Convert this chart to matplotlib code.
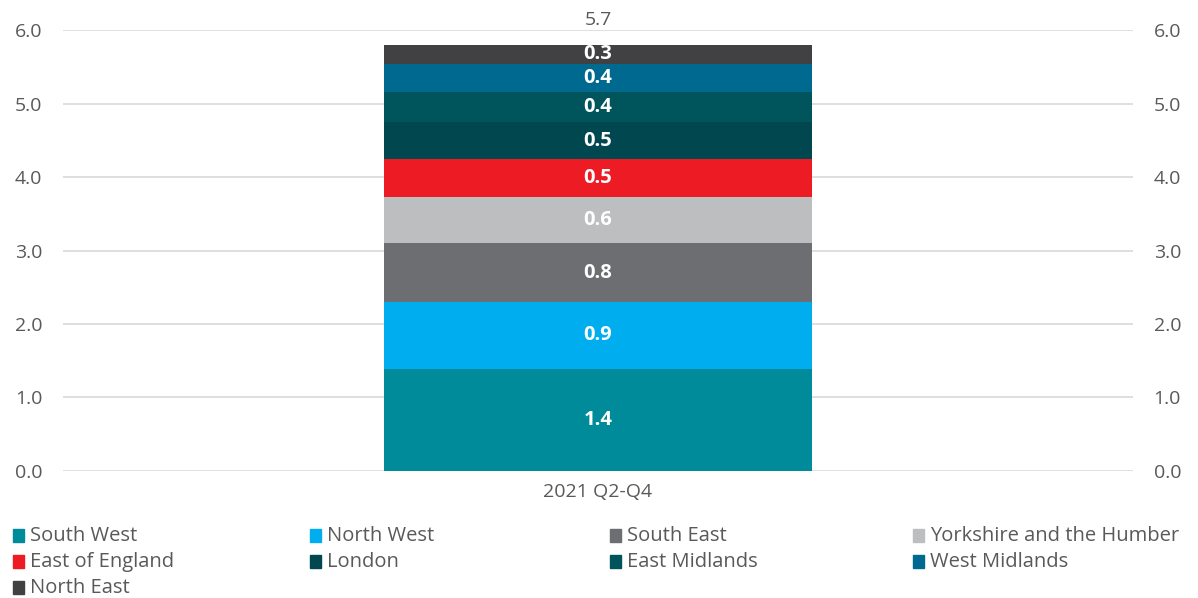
import matplotlib
matplotlib.use("Agg")
import matplotlib.pyplot as plt
from matplotlib.patches import Rectangle

# data
category = "2021 Q2-Q4"
regions = ["South West", "North West", "South East", "Yorkshire and the Humber",
           "East of England", "London", "East Midlands", "West Midlands", "North East"]
values = [1.39, 0.91, 0.80, 0.63, 0.51, 0.51, 0.41, 0.38, 0.26]
labels = ["1.4", "0.9", "0.8", "0.6", "0.5", "0.5", "0.4", "0.4", "0.3"]
total_label = "5.7"
colors = ["#008B9A", "#00AEEF", "#6D6E71", "#BCBEC0", "#ED1C24",
          "#00474F", "#00545C", "#006990", "#414042"]

plt.rcParams['font.family'] = ['Open Sans', 'DejaVu Sans']
txt = "#595959"

fig = plt.figure(figsize=(11.98, 5.98), dpi=100)
ax = fig.add_axes([0.0526, 0.2124, 0.893, 0.7374])

# stacked bar, one segment per region
bottom = 0
for v, lab, c in zip(values, labels, colors):
    ax.bar(0, v, width=0.8, bottom=bottom, color=c, zorder=3)
    ax.text(0, bottom + v / 2, lab, ha='center', va='center', color='white',
            fontsize=14.5, fontweight='bold', zorder=4)
    bottom += v
ax.text(0, 6.13, total_label, ha='center', va='center', color=txt, fontsize=14,
        clip_on=False)

ax.set_xlim(-1, 1)
ax.set_ylim(0, 6)
ax.set_yticks([0, 1, 2, 3, 4, 5, 6])
ax.set_yticklabels([f"{t:.1f}" for t in range(7)])
ax.tick_params(axis='y', length=0, labelsize=14, labelcolor=txt, pad=15,
               labelright=True)
ax.set_xticks([0])
ax.set_xticklabels([category])
ax.tick_params(axis='x', length=0, labelsize=14, labelcolor=txt, pad=9)
ax.grid(axis='y', color='#D9D9D9', linewidth=1.2, zorder=0)
for s in ax.spines.values():
    s.set_visible(False)

# legend laid out in 4 columns
col_x = [15, 312, 612, 915]
row_y = [536, 562, 588]
for i, (name, c) in enumerate(zip(regions, colors)):
    x = col_x[i % 4] / 1198
    y = 1 - row_y[i // 4] / 598
    fig.patches.append(Rectangle((x - 2 / 1198, y - 6 / 598), 11 / 1198, 13 / 598,
                                 transform=fig.transFigure, color=c))
    fig.text(x + 15 / 1198, y, name, ha='left', va='center', color=txt, fontsize=14.5)

fig.savefig("out.png", dpi=100)
